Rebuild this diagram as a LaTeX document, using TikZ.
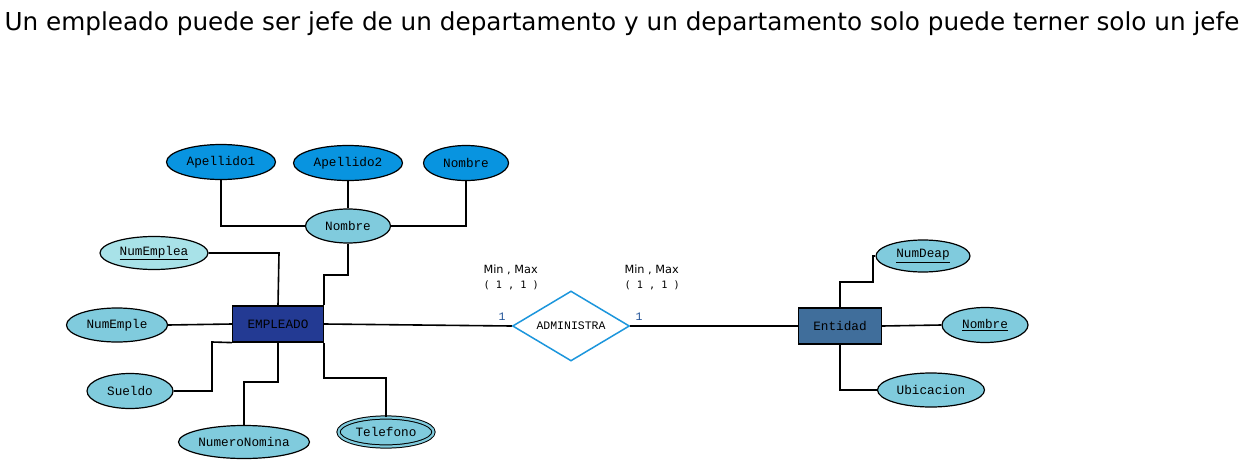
\documentclass[tikz,border=0pt]{standalone}
\usepackage{fontspec}
\setmainfont{DejaVu Sans}
\newfontfamily\erfont{Liberation Mono}
\newfontfamily\cardfont{DejaVu Sans Mono}
\usetikzlibrary{shapes.geometric}
\definecolor{empblue}{RGB}{35,58,147}
\definecolor{entblue}{RGB}{64,110,155}
\definecolor{apeblue}{RGB}{8,148,224}
\definecolor{attrblue}{RGB}{128,203,221}
\definecolor{keyblue}{RGB}{168,226,232}
\definecolor{relblue}{RGB}{28,150,220}
\definecolor{cardblue}{RGB}{30,80,150}

\begin{document}
\begin{tikzpicture}[x=1pt,y=-1pt]
\tikzset{attr/.style=
            {ellipse,draw,line width=1.2pt,fill=attrblue,inner sep=0pt,
             font=\erfont\fontsize{12.7}{12.7}\selectfont},
         entity/.style=
            {rectangle,draw,line width=1.2pt,inner sep=0pt,
             font=\erfont\fontsize{12.7}{12.7}\selectfont},
         link/.style=
            {draw,line width=1.6pt},
         card/.style=
            {font=\fontsize{11.3}{15}\selectfont,align=left}}
\useasboundingbox (0,0) rectangle (1252,463);
\node[anchor=base west,font=\fontsize{24.7}{28}\selectfont] (title) at (1,30)
    {Un empleado puede ser jefe de un departamento y un departamento solo puede terner solo un jefe};
\node[entity,fill=empblue,minimum width=91pt,minimum height=36pt] (empleado) at (278,324) {EMPLEADO};
\node[entity,fill=entblue,minimum width=83pt,minimum height=36pt] (entidad) at (840,326) {Entidad};
\node[diamond,draw=relblue,line width=1.5pt,fill=white,inner sep=0pt,minimum width=117pt,minimum height=70pt,
      aspect=1.67,font=\erfont\fontsize{11.5}{11.5}\selectfont] (administra) at (571,326) {ADMINISTRA};
\node[attr,fill=apeblue,minimum width=109pt,minimum height=35pt] (apellido1) at (221,162) {Apellido1};
\node[attr,fill=apeblue,minimum width=109pt,minimum height=35pt] (apellido2) at (348,163) {Apellido2};
\node[attr,fill=apeblue,minimum width=85pt,minimum height=35pt] (nombrepila) at (466,163) {Nombre};
\node[attr,minimum width=85pt,minimum height=34pt] (nombre) at (348,226) {Nombre};
\node[attr,fill=keyblue,minimum width=108pt,minimum height=33pt] (numemplea) at (154,253) {\underline{NumEmplea}};
\node[attr,minimum width=101pt,minimum height=34pt] (numemple) at (117,325) {NumEmple};
\node[attr,minimum width=86pt,minimum height=35pt] (sueldo) at (130,391) {Sueldo};
\node[attr,minimum width=131pt,minimum height=33pt] (numeronomina) at (244,442) {NumeroNomina};
\node[attr,draw=black,double=attrblue,double distance=2.2pt,line width=1pt,
      minimum width=95pt,minimum height=29pt] (telefono) at (386,432) {Telefono};
\node[attr,minimum width=94pt,minimum height=32pt] (numdeap) at (923,256) {\underline{NumDeap}};
\node[attr,minimum width=86pt,minimum height=35pt] (nombredep) at (985,325) {\underline{Nombre}};
\node[attr,minimum width=107pt,minimum height=34pt] (ubicacion) at (931,390) {Ubicacion};
\node[card,anchor=north west] (minmaxa) at (480,261) {Min , Max\\{\cardfont\fontsize{10.2}{15}\selectfont ( 1 , 1 )}};
\node[card,anchor=north west] (minmaxb) at (621,261) {Min , Max\\{\cardfont\fontsize{10.2}{15}\selectfont ( 1 , 1 )}};
\node[font=\erfont\fontsize{11.5}{11.5}\selectfont,text=cardblue] (carda) at (502,317) {1};
\node[font=\erfont\fontsize{11.5}{11.5}\selectfont,text=cardblue] (cardb) at (639,317) {1};
\coordinate (nomjoin) at (348,275);
\coordinate (keyjoin) at (279,253);
\coordinate (sueldojoin) at (212,342);
\coordinate (nominajoin) at (244,382);
\coordinate (teljoin) at (386,378);
\coordinate (deapjoin) at (840,282);
\coordinate (deapjoinb) at (873,282);
\draw[link] (apellido1.south) |- (nombre.west);
\draw[link] (apellido2.south) -- (nombre.north);
\draw[link] (nombrepila.south) |- (nombre.east);
\draw[link] (nombre.south) -- (nomjoin) -| (empleado.north east);
\draw[link] (numemplea.east) -- (keyjoin) -- (empleado.north);
\draw[link] (numemple.east) -- (empleado.west);
\draw[link] (sueldo.east) -| (sueldojoin) -- (empleado.south west);
\draw[link] (numeronomina.north) -- (nominajoin) -| (empleado.south);
\draw[link] (telefono.north) -- (teljoin) -| (empleado.south east);
\draw[link] (empleado.east) -- (administra.west);
\draw[link] (administra.east) -- (entidad.west);
\draw[link] (entidad.north) -- (deapjoin) -- (deapjoinb) |- (numdeap.west);
\draw[link] (entidad.east) -- (nombredep.west);
\draw[link] (entidad.south) |- (ubicacion.west);
\end{tikzpicture}
\end{document}
